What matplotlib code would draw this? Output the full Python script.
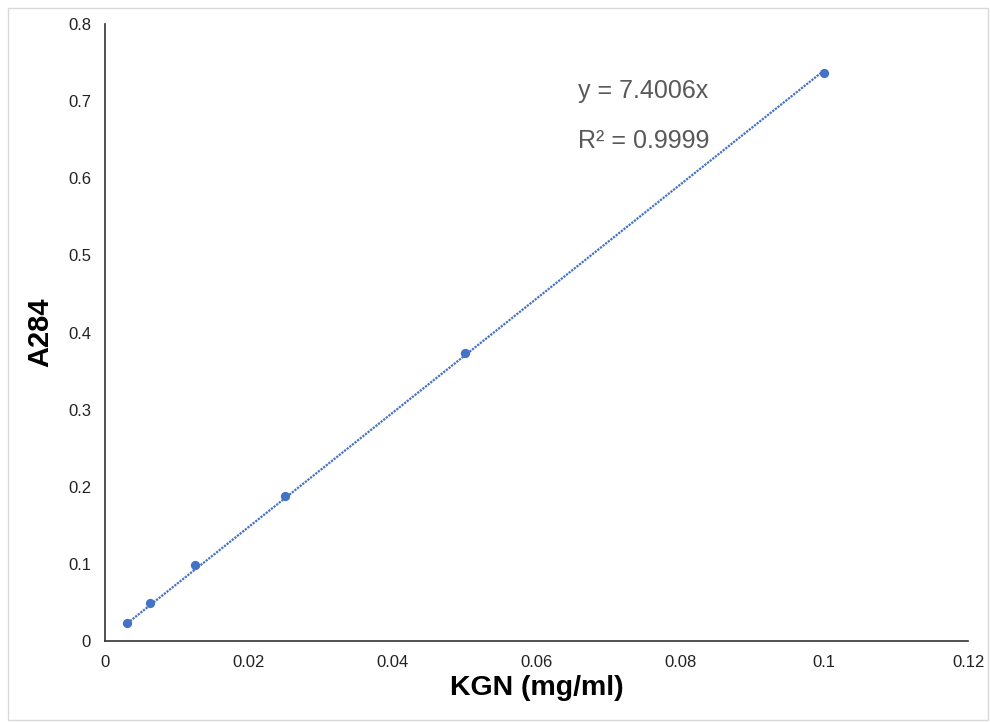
import numpy as np
import matplotlib.pyplot as plt
from matplotlib.patches import Rectangle

plt.rcParams['font.family'] = ['Liberation Sans', 'DejaVu Sans']

conc = [0.003125, 0.00625, 0.0125, 0.025, 0.05, 0.1]
absorb = [0.023, 0.049, 0.099, 0.188, 0.374, 0.736]
slope = 7.4006
r2 = 0.9999

fig = plt.figure(figsize=(9.9, 7.23), dpi=100)
ax = fig.add_axes([0.106, 0.1134, 0.872, 0.8534])

blue = '#4472C4'
xfit = np.array([conc[0], conc[-1]])
ax.plot(xfit, slope * xfit, linestyle=(0, (1, 0.5)), color=blue, linewidth=1.6, zorder=2)
ax.scatter(conc, absorb, s=32, color=blue, zorder=3)

ax.set_xlim(0, 0.12)
ax.set_ylim(0, 0.8)
ax.set_xticks(np.arange(0, 0.121, 0.02))
ax.set_xticklabels(['0', '0.02', '0.04', '0.06', '0.08', '0.1', '0.12'])
ax.set_yticks(np.arange(0, 0.81, 0.1))
ax.set_yticklabels(['0', '0.1', '0.2', '0.3', '0.4', '0.5', '0.6', '0.7', '0.8'])
ax.tick_params(length=0, labelsize=12, colors='#222222')
ax.tick_params(axis='y', pad=10)
ax.tick_params(axis='x', pad=10)
for s in ['top', 'right']:
    ax.spines[s].set_visible(False)
for s in ['left', 'bottom']:
    ax.spines[s].set_color('#333333')
    ax.spines[s].set_linewidth(1.2)

ax.set_xlabel('KGN (mg/ml)', fontsize=20.5, fontweight='bold', labelpad=4)
ax.set_ylabel('A284', fontsize=21, fontweight='bold', labelpad=10)

ax.text(0.0658, 0.713, 'y = %.4fx' % slope, fontsize=18, color='#595959', va='center')
ax.text(0.0658, 0.648, 'R\u00b2 = %.4f' % r2, fontsize=18, color='#595959', va='center')

fig.patches.append(Rectangle((0.008, 0.004), 0.99, 0.985, transform=fig.transFigure,
                             fill=False, edgecolor='#d9d9d9', linewidth=1))

fig.savefig('out.png', dpi=100)
